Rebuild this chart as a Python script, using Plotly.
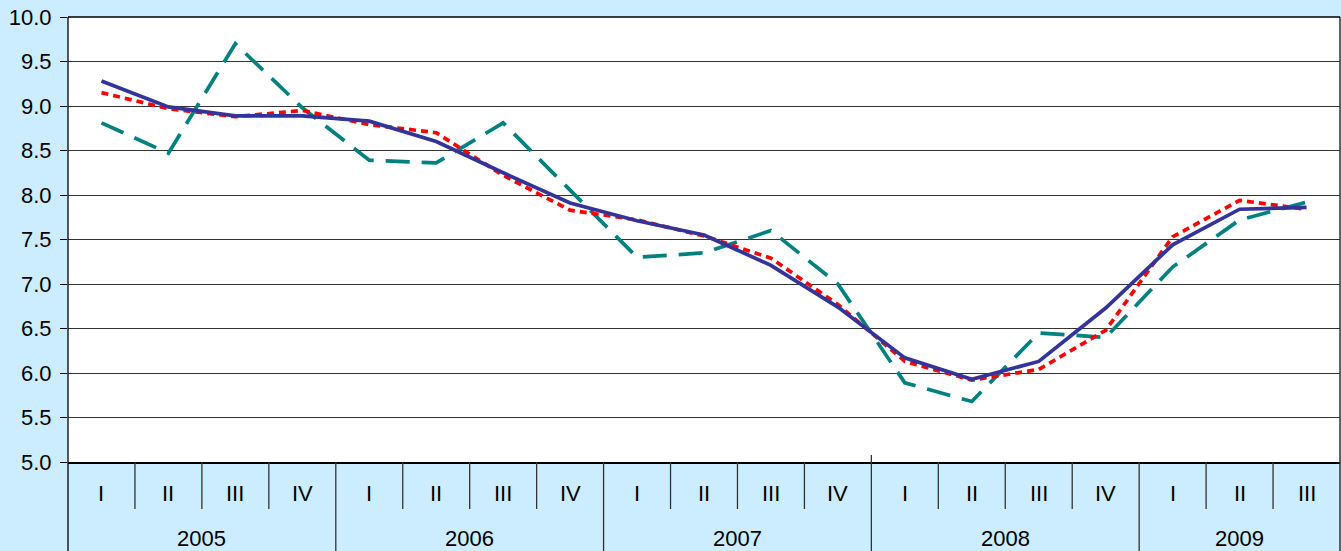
import plotly.graph_objects as go

quarters = ["I", "II", "III", "IV"] * 4 + ["I", "II", "III"]
years = ["2005", "2006", "2007", "2008", "2009"]
year_counts = [4, 4, 4, 4, 3]

series_solid = [9.28, 8.99, 8.89, 8.89, 8.83, 8.60, 8.25, 7.91, 7.71, 7.55,
                7.21, 6.74, 6.17, 5.93, 6.13, 6.73, 7.44, 7.84, 7.86]
series_dotted = [9.15, 8.97, 8.88, 8.95, 8.79, 8.70, 8.22, 7.83, 7.72, 7.54,
                 7.29, 6.77, 6.13, 5.92, 6.04, 6.48, 7.53, 7.94, 7.84]
series_dashed = [8.81, 8.47, 9.70, 8.98, 8.39, 8.36, 8.81, 8.05, 7.30, 7.35,
                 7.60, 7.00, 5.89, 5.68, 6.45, 6.40, 7.19, 7.72, 7.92]

y_ticks = [5.0, 5.5, 6.0, 6.5, 7.0, 7.5, 8.0, 8.5, 9.0, 9.5, 10.0]

x = list(range(len(quarters)))

fig = go.Figure()
fig.add_trace(go.Scatter(x=x, y=series_dashed, mode="lines",
                         line=dict(color="#008080", width=3.7, dash="24px,12px"),
                         hoverinfo="skip"))
fig.add_trace(go.Scatter(x=x, y=series_dotted, mode="lines",
                         line=dict(color="#FF0000", width=3.7, dash="7px,5px"),
                         hoverinfo="skip"))
fig.add_trace(go.Scatter(x=x, y=series_solid, mode="lines",
                         line=dict(color="#333399", width=3.7),
                         hoverinfo="skip"))

plot_h = 445.0
q_label_y = -32 / plot_h
y_label_y = -76 / plot_h
q_sep_bottom = -47 / plot_h
bottom = -89 / plot_h

shapes = []
annotations = []
font = dict(family="Liberation Sans, Arial, sans-serif", size=22, color="black")

year_bounds = []
acc = 0
for c in year_counts:
    acc += c
    year_bounds.append(acc)

for i, q in enumerate(quarters):
    annotations.append(dict(x=i, y=q_label_y, xref="x", yref="paper", text=q,
                            showarrow=False, font=font, xanchor="center", yanchor="middle"))
    if i > 0 and i not in year_bounds:
        shapes.append(dict(type="line", xref="x", yref="paper", x0=i - 0.5, x1=i - 0.5,
                           y0=0, y1=q_sep_bottom, line=dict(color="#333333", width=1.3)))

start = 0
for yname, c, b in zip(years, year_counts, year_bounds):
    annotations.append(dict(x=start + (c - 1) / 2, y=y_label_y, xref="x", yref="paper",
                            text=yname, showarrow=False, font=font,
                            xanchor="center", yanchor="middle"))
    if b < len(quarters):
        top = 7 / plot_h if yname == "2007" else 0
        shapes.append(dict(type="line", xref="x", yref="paper", x0=b - 0.5, x1=b - 0.5,
                           y0=top, y1=bottom, line=dict(color="#333333", width=1.3)))
    start = b

shapes.append(dict(type="line", xref="paper", yref="paper", x0=0, x1=0, y0=bottom, y1=1,
                   line=dict(color="black", width=1.3)))
shapes.append(dict(type="line", xref="paper", yref="paper", x0=1, x1=1, y0=bottom, y1=1,
                   line=dict(color="#333333", width=1.5)))
shapes.append(dict(type="line", xref="paper", yref="paper", x0=0, x1=1, y0=1, y1=1,
                   line=dict(color="black", width=1.3)))

fig.update_layout(
    width=1341, height=551,
    margin=dict(l=68, r=1, t=17, b=89),
    paper_bgcolor="#CCECFF",
    plot_bgcolor="white",
    showlegend=False,
    shapes=shapes,
    annotations=annotations,
    xaxis=dict(range=[-0.5, len(quarters) - 0.5], showticklabels=False, showgrid=False,
               zeroline=False, showline=True, linecolor="black", linewidth=1.5,
               ticks="", fixedrange=True),
    yaxis=dict(range=[5, 10], tickvals=y_ticks, tickformat=".1f", showgrid=True,
               gridcolor="#333333", gridwidth=1, zeroline=False, ticks="outside",
               ticklen=7, tickcolor="black", showline=False,
               tickfont=font, ticklabelstandoff=4, fixedrange=True),
)

fig.write_html("out.html", config={"displayModeBar": False},
               post_script="document.body.style.margin='0';document.body.style.overflow='hidden';")
